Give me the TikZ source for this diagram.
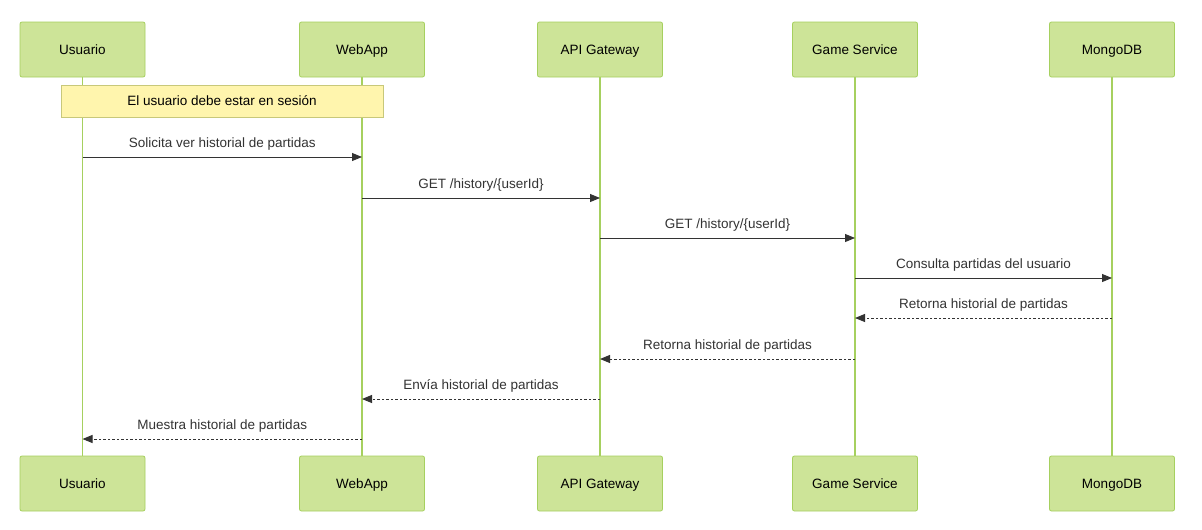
\documentclass[tikz,border=0pt]{standalone}
\usepackage{fontspec}
\setmainfont{Liberation Sans}
\usetikzlibrary{arrows.meta}
\definecolor{actfill}{HTML}{CDE498}
\definecolor{actdraw}{HTML}{A6D05F}
\definecolor{lifeln}{HTML}{A6D05F}
\definecolor{notefill}{HTML}{FFF5AD}
\definecolor{notedraw}{HTML}{C8C87A}
\definecolor{txt}{HTML}{333333}
\begin{document}
\begin{tikzpicture}[x=1pt,y=-1pt,
  actor/.style={draw=actdraw,fill=actfill,rounded corners=2pt,minimum width=125pt,minimum height=55pt,inner sep=0pt,text height=11pt,text depth=1pt,font=\fontsize{13.5}{16}\selectfont,text=black,line width=0.8pt},
  life/.style={draw=lifeln,line width=1.2pt},
  msg/.style={draw=txt,line width=1pt,-{Triangle[length=10pt,width=8pt]}},
  reply/.style={msg,dash pattern=on 2.5pt off 2pt},
  lbl/.style={font=\fontsize{13.5}{16}\selectfont,text=txt,inner sep=0pt,anchor=base}]
\useasboundingbox (0,0) rectangle (1202,530);
\fill[white] (0,0) rectangle (1202,530);
\foreach \n/\x/\t in {u/82.5/Usuario,w/362/WebApp,g/600/API Gateway,s/855/Game Service,m/1112/MongoDB}{
  \draw[life] (\x,77) -- (\x,456);
  \node[actor] (\n top) at (\x,49.5) {\t};
  \node[actor] (\n bot) at (\x,483.5) {\t};
}
\node[draw=notedraw,fill=notefill,minimum width=322pt,minimum height=32pt,inner sep=0pt,text height=10.5pt,text depth=1.5pt,font=\fontsize{13.5}{16}\selectfont,line width=0.8pt] (note) at (222,101) {El usuario debe estar en sesión};
% message coordinates
\foreach \n/\x in {u/82.5,w/362,g/600,s/855,m/1112}{
  \foreach \y/\k in {157/1,198/2,238/3,278/4,318/5,359/6,399/7,439/8}{
    \coordinate (\n\k) at (\x,\y);
  }
}
\draw[msg] (u1) -- (w1) node[lbl,midway,above=6pt] {Solicita ver historial de partidas};
\draw[msg] (w2) -- (g2) node[lbl,midway,above=6pt] {GET /history/\{userId\}};
\draw[msg] (g3) -- (s3) node[lbl,midway,above=6pt] {GET /history/\{userId\}};
\draw[msg] (s4) -- (m4) node[lbl,midway,above=6pt] {Consulta partidas del usuario};
\draw[reply] (m5) -- (s5) node[lbl,midway,above=6pt] {Retorna historial de partidas};
\draw[reply] (s6) -- (g6) node[lbl,midway,above=6pt] {Retorna historial de partidas};
\draw[reply] (g7) -- (w7) node[lbl,midway,above=6pt] {Envía historial de partidas};
\draw[reply] (w8) -- (u8) node[lbl,midway,above=6pt] {Muestra historial de partidas};
\end{tikzpicture}
\end{document}
